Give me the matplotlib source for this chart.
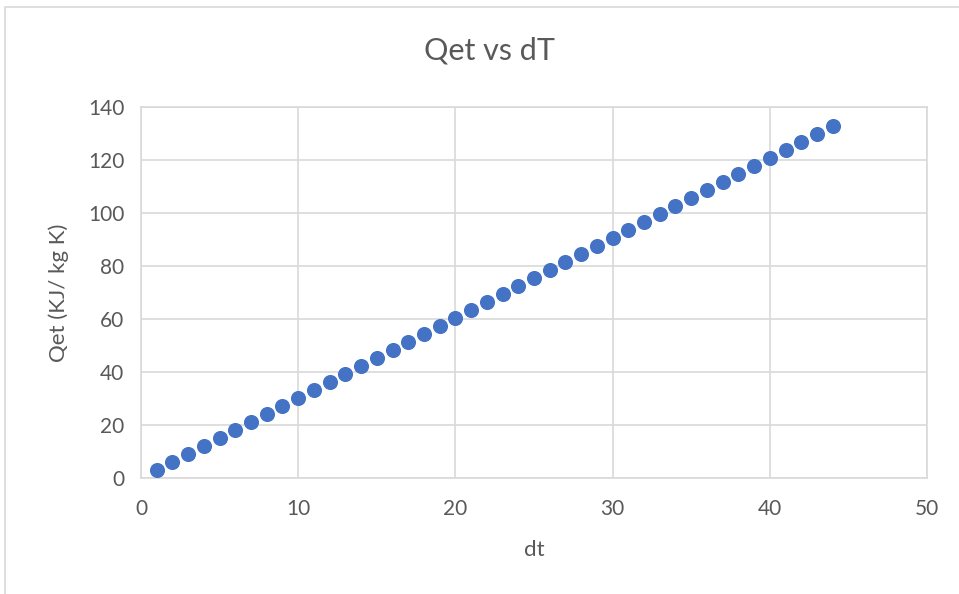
import numpy as np
import matplotlib
matplotlib.use("Agg")
import matplotlib.pyplot as plt
from matplotlib.patches import Rectangle

# values
dt = [1, 2, 3, 4, 5, 6, 7, 8, 9, 10, 11, 12, 13, 14, 15, 16, 17, 18, 19, 20, 21, 22,
      23, 24, 25, 26, 27, 28, 29, 30, 31, 32, 33, 34, 35, 36, 37, 38, 39, 40, 41, 42, 43, 44]
qet = [3.0, 6.0, 9.1, 12.1, 15.1, 18.1, 21.1, 24.2, 27.2, 30.2, 33.2, 36.2, 39.3, 42.3,
       45.3, 48.3, 51.3, 54.4, 57.4, 60.4, 63.4, 66.4, 69.5, 72.5, 75.5, 78.5, 81.5, 84.6,
       87.6, 90.6, 93.6, 96.6, 99.7, 102.7, 105.7, 108.7, 111.7, 114.8, 117.8, 120.8,
       123.8, 126.8, 129.9, 132.9]

plt.rcParams['font.family'] = ['Lato', 'DejaVu Sans']
txt = '#595959'
grid = '#d9d9d9'

fig = plt.figure(figsize=(9.59, 5.94), dpi=100)
# chart frame (cropped on right and bottom)
fig.patches.append(Rectangle((5/959, -0.1), 1.2, 1 - 7/594 + 0.1, transform=fig.transFigure,
                             fill=False, edgecolor=grid, linewidth=1.2))

ax = fig.add_axes([141/959, 1 - 478/594, (927 - 141)/959, (478 - 107)/594])
ax.scatter(dt, qet, s=118, color='#4472C4', zorder=3, linewidths=0)

ax.set_xlim(0, 50)
ax.set_ylim(0, 140)
ax.set_xticks(range(0, 51, 10))
ax.set_yticks(range(0, 141, 20))
ax.grid(True, color=grid, linewidth=1.2)
ax.set_axisbelow(True)
for s in ax.spines.values():
    s.set_color(grid)
    s.set_linewidth(1.2)
ax.tick_params(length=0, colors=txt, labelsize=15)
ax.tick_params(axis='x', pad=15)
ax.tick_params(axis='y', pad=12)

fig.text(489/959, 1 - 50/594, 'Qet vs dT', fontsize=22, color=txt, ha='center', va='center')
ax.set_xlabel('dt', fontsize=16, color=txt, labelpad=15)
ax.set_ylabel('Qet (KJ/ kg K)', fontsize=16, color=txt, labelpad=14)

fig.savefig('out.png', dpi=100)
